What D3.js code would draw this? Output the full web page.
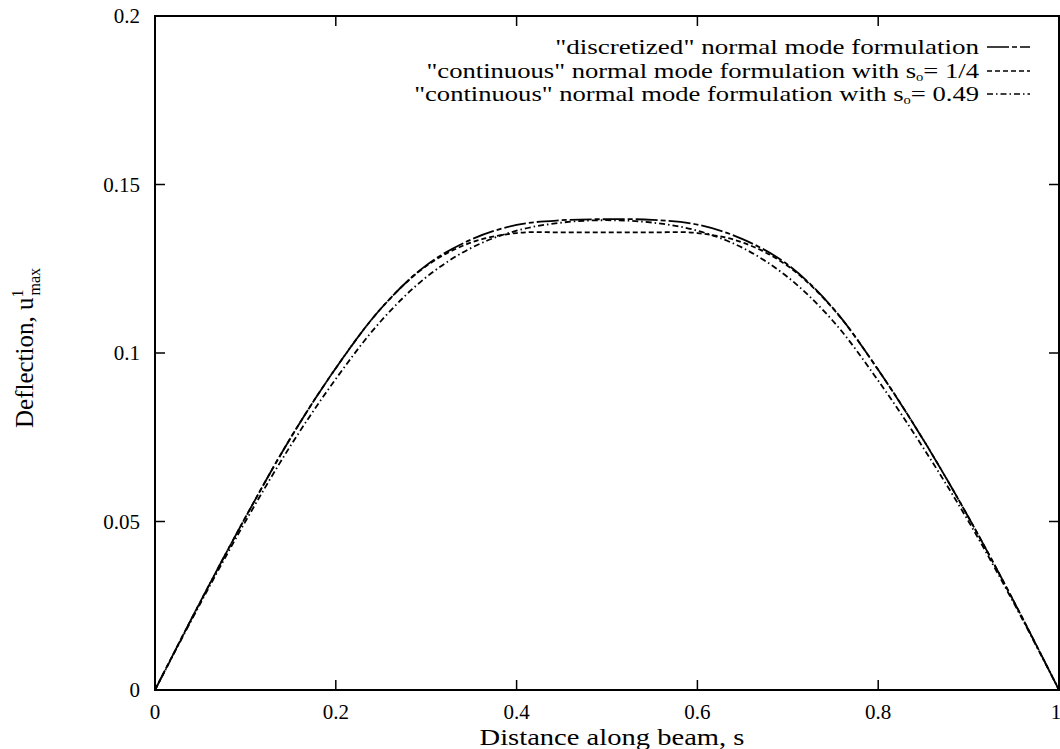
<!DOCTYPE html>
<html>
<head>
<meta charset="utf-8">
<script src="https://cdn.jsdelivr.net/npm/d3@7"></script>
<style>
  body { margin: 0; background: #fff; }
</style>
</head>
<body>
<div id="chart"></div>
<script>
// distance along beam
const sValues = [0, 0.05, 0.1, 0.15, 0.2, 0.25, 0.3, 0.35, 0.4, 0.45, 0.5,
                 0.55, 0.6, 0.65, 0.7, 0.75, 0.8, 0.85, 0.9, 0.95, 1];
// "discretized" normal mode formulation
const discretized = [0, 0.0261, 0.0512, 0.0748, 0.0955, 0.1132, 0.1260, 0.1337, 0.1380, 0.1394, 0.1397,
                     0.1395, 0.1381, 0.1338, 0.1262, 0.1133, 0.0950, 0.0742, 0.0512, 0.0263, 0];
// "continuous" with s0 = 1/4
const continuousQuarter = [0, 0.0261, 0.0512, 0.0748, 0.0955, 0.1132, 0.1258, 0.1328, 0.1356, 0.1358, 0.1358,
                           0.1358, 0.1356, 0.1328, 0.1258, 0.1132, 0.0950, 0.0742, 0.0512, 0.0263, 0];
// "continuous" with s0 = 0.49
const continuous049 = [0, 0.0256, 0.0500, 0.0725, 0.0923, 0.1095, 0.1225, 0.1312, 0.1363, 0.1387, 0.1394,
                       0.1387, 0.1363, 0.1312, 0.1225, 0.1095, 0.0918, 0.0718, 0.0500, 0.0258, 0];

const xTicks = [0, 0.2, 0.4, 0.6, 0.8, 1];
const yTicks = [0, 0.05, 0.1, 0.15, 0.2];

const seriesNames = [
  '"discretized" normal mode formulation',
  '"continuous" normal mode formulation with s',
  '"continuous" normal mode formulation with s'
];
const seriesTails = ['', '= 1/4', '= 0.49'];
const dashes = ['22,3,5,3', '5,3', '6,3,1.5,3'];

const serif = "'Liberation Serif', 'DejaVu Serif', serif";
const width = 1060, height = 749;
const margin = { top: 16, right: 1, bottom: 59, left: 155 };

const svg = d3.select('#chart').append('svg')
  .attr('width', width)
  .attr('height', height);

svg.append('rect').attr('width', width).attr('height', height).attr('fill', '#fff');

const x = d3.scaleLinear().domain([0, 1]).range([margin.left, width - margin.right]);
const y = d3.scaleLinear().domain([0, 0.2]).range([height - margin.bottom, margin.top]);

// stretch a text horizontally so it spans the wanted width
function fitWidth(g, text, target) {
  const w = text.node().getBBox().width;
  const k = target / w;
  const t = g.attr('transform');
  g.attr('transform', t + ` scale(${k},1)`);
}

// ticks on all sides, pointing inward
const tickLen = 10;
const axisG = svg.append('g').attr('stroke', '#000').attr('stroke-width', 1.5);
xTicks.forEach(t => {
  axisG.append('line').attr('x1', x(t)).attr('x2', x(t)).attr('y1', y(0)).attr('y2', y(0) - tickLen);
  axisG.append('line').attr('x1', x(t)).attr('x2', x(t)).attr('y1', y(0.2)).attr('y2', y(0.2) + tickLen);
});
yTicks.forEach(t => {
  axisG.append('line').attr('x1', x(0)).attr('x2', x(0) + tickLen).attr('y1', y(t)).attr('y2', y(t));
  axisG.append('line').attr('x1', x(1)).attr('x2', x(1) - tickLen).attr('y1', y(t)).attr('y2', y(t));
});

svg.append('rect')
  .attr('x', x(0)).attr('y', y(0.2))
  .attr('width', x(1) - x(0)).attr('height', y(0) - y(0.2))
  .attr('fill', 'none').attr('stroke', '#000').attr('stroke-width', 2);

// tick labels
svg.selectAll('.xl').data(xTicks).enter().append('text')
  .attr('font-family', serif)
  .attr('x', d => Math.min(x(d), width - 4)).attr('y', y(0) + 29)
  .attr('text-anchor', 'middle').attr('font-size', 21)
  .text(d => d3.format('')(d));

svg.selectAll('.yl').data(yTicks).enter().append('text')
  .attr('font-family', serif)
  .attr('x', x(0) - 15).attr('y', d => y(d) + 7)
  .attr('text-anchor', 'end').attr('font-size', 21)
  .text(d => d3.format('')(d));

// axis titles
const xtG = svg.append('g').attr('transform', 'translate(612,745)');
const xt = xtG.append('text')
  .attr('font-family', serif)
  .attr('text-anchor', 'middle').attr('font-size', 24)
  .text('Distance along beam, s');
fitWidth(xtG, xt, 265);

const yt = svg.append('text')
  .attr('font-family', serif)
  .attr('transform', 'translate(33,428) rotate(-90)')
  .attr('font-size', 25);
yt.append('tspan').text('Deflection, u');
yt.append('tspan').attr('font-size', 16).attr('dy', -10).text('1');
yt.append('tspan').attr('font-size', 16).attr('dx', -6).attr('dy', 17).text('max');

// curves
const allSeries = [discretized, continuousQuarter, continuous049];
const line = d3.line()
  .x((d, i) => x(sValues[i]))
  .y(d => y(d))
  .curve(d3.curveCatmullRom.alpha(0.5));

svg.selectAll('.curve').data(allSeries).enter().append('path')
  .attr('d', d => line(d))
  .attr('fill', 'none')
  .attr('stroke', '#000')
  .attr('stroke-width', 1.8)
  .attr('stroke-dasharray', (d, i) => dashes[i]);

// legend
const legendY = [47, 71, 94];
const legendWidths = [424, 553, 565];
seriesNames.forEach((name, i) => {
  const g = svg.append('g').attr('transform', `translate(979,${legendY[i] + 7})`);
  const t = g.append('text')
    .attr('font-family', serif)
    .attr('text-anchor', 'end').attr('font-size', 22);
  t.append('tspan').text(name);
  if (seriesTails[i]) {
    t.append('tspan').attr('font-size', 12).attr('dy', 3).text('o');
    t.append('tspan').attr('dy', -3).text(seriesTails[i]);
  }
  fitWidth(g, t, legendWidths[i]);
  svg.append('line')
    .attr('x1', 987).attr('x2', 1030)
    .attr('y1', legendY[i]).attr('y2', legendY[i])
    .attr('stroke', '#000').attr('stroke-width', 1.6)
    .attr('stroke-dasharray', dashes[i]);
});
</script>
</body>
</html>
